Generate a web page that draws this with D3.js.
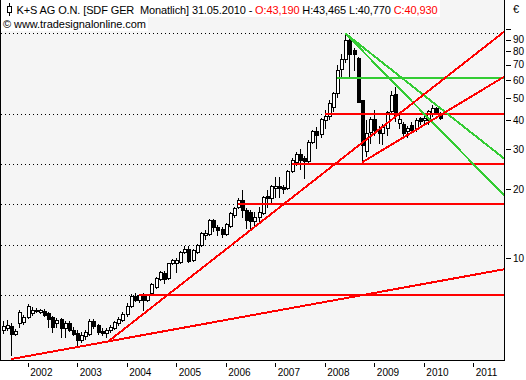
<!DOCTYPE html>
<html><head><meta charset="utf-8">
<script src="https://cdn.jsdelivr.net/npm/d3@7"></script>
<style>
body{margin:0;background:#fff}
svg{display:block}
text{font-family:"Liberation Sans",Arial,sans-serif;white-space:pre}
</style>
</head><body>
<svg id="c" width="526" height="380"></svg>
<script>
// ---------- DATA ----------
const months = [
 "2001-07","2001-08","2001-09","2001-10","2001-11","2001-12",
 "2002-01","2002-02","2002-03","2002-04","2002-05","2002-06","2002-07","2002-08","2002-09","2002-10","2002-11","2002-12",
 "2003-01","2003-02","2003-03","2003-04","2003-05","2003-06","2003-07","2003-08","2003-09","2003-10","2003-11","2003-12",
 "2004-01","2004-02","2004-03","2004-04","2004-05","2004-06","2004-07","2004-08","2004-09","2004-10","2004-11","2004-12",
 "2005-01","2005-02","2005-03","2005-04","2005-05","2005-06","2005-07","2005-08","2005-09","2005-10","2005-11","2005-12",
 "2006-01","2006-02","2006-03","2006-04","2006-05","2006-06","2006-07","2006-08","2006-09","2006-10","2006-11","2006-12",
 "2007-01","2007-02","2007-03","2007-04","2007-05","2007-06","2007-07","2007-08","2007-09","2007-10","2007-11","2007-12",
 "2008-01","2008-02","2008-03","2008-04","2008-05","2008-06","2008-07","2008-08","2008-09","2008-10","2008-11","2008-12",
 "2009-01","2009-02","2009-03","2009-04","2009-05","2009-06","2009-07","2009-08","2009-09","2009-10","2009-11","2009-12",
 "2010-01","2010-02","2010-03","2010-04","2010-05"
];
const open = [
 4.86,4.95,5.05,4.68,5.22,5.25,
 5.55,5.75,5.88,5.82,5.90,5.75,5.52,5.22,5.42,4.98,5.20,4.88,
 4.70,4.40,4.60,4.68,5.30,5.10,4.80,4.70,4.85,4.98,5.20,5.40,
 5.70,6.20,6.85,6.55,6.90,6.60,7.05,7.50,8.10,8.60,8.20,9.50,
 9.55,9.65,10.7,10.95,9.80,10.7,11.4,12.7,12.8,14.7,13.7,13.4,
 12.8,13.9,15.5,16.8,17.9,16.2,15.9,14.6,15.2,15.8,18.8,18.4,
 20.3,20.6,20.5,20.3,24.0,26.4,28.4,27.5,26.5,32.3,36.0,34.8,
 40.3,41.8,46.0,52.5,67.0,74.5,90.0,81.5,75.0,49.0,29.5,35.5,
 40.5,36.3,35.2,37.0,44.0,52.0,39.0,38.4,35.8,38.1,36.9,40.8,
 40.0,40.3,43.0,45.2,43.19
];
const high = [
 5.33,5.40,5.20,4.90,5.95,5.65,
 6.30,6.15,6.08,6.00,5.98,5.85,5.58,5.48,5.50,5.30,5.35,5.00,
 4.85,4.75,4.85,5.45,5.42,5.15,4.95,4.95,5.10,5.35,5.55,5.80,
 6.35,6.95,7.05,7.00,7.05,7.00,7.80,8.30,8.80,8.80,9.55,9.95,
 10.0,10.8,11.3,11.3,11.0,11.6,13.0,13.3,14.9,14.8,14.0,13.7,
 14.3,16.0,16.8,18.3,19.8,16.5,16.3,16.0,16.8,18.8,19.9,20.9,
 22.7,22.7,20.9,24.3,27.5,29.0,30.0,28.0,32.8,36.5,37.5,41.0,
 44.5,49.0,53.5,70.0,78.0,96.0,92.0,83.0,76.0,49.2,40.0,41.5,
 44.5,38.0,38.5,44.0,54.0,56.0,43.0,39.5,38.0,39.5,41.0,41.5,
 43.0,44.5,46.5,46.0,43.465
];
const low = [
 4.70,4.85,3.80,4.62,5.00,5.15,
 5.50,5.65,5.80,5.78,5.62,5.00,4.75,5.00,4.55,4.55,4.80,4.62,
 4.20,4.30,4.45,4.62,4.95,4.68,4.62,4.55,4.75,4.90,5.10,5.30,
 5.60,6.10,6.50,6.45,5.95,6.50,6.90,7.40,8.00,7.80,8.10,9.40,
 8.75,9.55,10.5,9.60,9.70,10.6,11.3,12.2,12.7,13.1,12.7,12.4,
 12.6,13.7,15.2,16.6,15.2,13.5,13.6,13.7,14.2,15.6,16.8,17.4,
 18.6,18.6,19.2,20.0,23.8,25.5,24.5,22.5,26.0,31.8,30.2,34.0,
 37.0,40.5,44.0,50.5,62.0,72.0,62.0,66.5,48.0,26.4,28.0,32.0,
 34.5,32.0,31.5,34.5,43.0,39.8,37.0,34.3,34.0,35.5,36.0,38.5,
 38.5,38.5,42.0,42.5,40.77
];
const close = [
 5.06,5.10,4.65,4.80,5.85,5.55,
 6.20,5.95,5.95,5.95,5.68,5.42,5.02,5.38,4.95,5.20,4.88,4.68,
 4.38,4.62,4.78,5.35,5.08,4.78,4.70,4.88,5.00,5.25,5.45,5.70,
 6.20,6.85,6.60,6.90,6.55,6.90,7.70,8.20,8.70,8.10,9.50,9.80,
 9.85,10.7,10.95,9.70,10.9,11.4,12.9,12.9,14.7,13.65,13.3,12.8,
 14.1,15.8,16.5,17.9,16.3,14.7,14.5,15.2,15.9,18.6,18.3,20.7,
 20.6,20.2,20.1,24.0,26.9,28.4,27.0,26.5,32.3,36.0,34.6,40.5,
 41.8,47.8,52.6,66.5,74.5,90.2,78.0,78.0,48.3,31.2,35.2,40.5,
 36.5,35.1,37.5,43.4,51.5,42.3,40.6,35.2,36.9,36.4,40.0,39.9,
 40.8,44.0,45.2,43.2,40.93
];
const yearLabels = ["2002","2003","2004","2005","2006","2007","2008","2009","2010","2011"];
const priceTicks = [10,20,30,40,50,60,70,80,90,100];
const priceTickLabels = ["10","20","30","40","50","60","70","80","90",""];
// Drawn studies: levels (start month, price) and trendlines (two anchors)
const redLevels = [["2004-04",6.9],["2006-04",17.2],["2007-05",25.7],["2008-01",42.7]];
const greenLevels = [["2008-04",61.3]];
const dottedLevels = [96,42.7,25.7,17.2,11.4,6.9];
const redTrends = [
 [["2001-09",3.63],["2005-02",4.95]],
 [["2003-08-15",4.32],["2008-01",23.8]],
 [["2008-10",26.2],["2010-05",42.1]]
];
const greenTrends = [
 [["2008-06",96],["2010-05",45.3]],
 [["2008-06",96],["2010-05",36.3]]
];
const title = "K+S AG O.N. [SDF GER  Monatlich] 31.05.2010 - ";
const copyright = "\u00a9 www.tradesignalonline.com";

// ---------- CHART ----------
const svg = d3.select("#c");
const W = 526, H = 380;
const L = 1, R = 504, T = 0, B = 360;
const pm = d3.utcParse("%Y-%m"), pd = d3.utcParse("%Y-%m-%d");
const pdate = s => s.length > 7 ? pd(s) : pm(s);

const x = d3.scaleUtc().domain([pm("2002-01"), pm("2011-01")]).range([27.7, 473.3]);
const y = d3.scaleLog().domain([10, 100]).range([258.3, 29.3]);

const data = months.map((m, i) => ({d: pm(m), o: open[i], h: high[i], l: low[i], c: close[i]}));

svg.append("rect").attr("width", W).attr("height", H).attr("fill", "#fff");
svg.append("defs").append("clipPath").attr("id", "clip")
  .append("rect").attr("x", L).attr("y", T).attr("width", R - L).attr("height", B - T);
svg.append("rect").attr("x", L).attr("y", T).attr("width", R - L).attr("height", B - T).attr("fill", "#f5f5f5");

const plot = svg.append("g").attr("clip-path", "url(#clip)");

// dotted levels
plot.selectAll("line.dot").data(dottedLevels).join("line")
  .attr("x1", L).attr("x2", R)
  .attr("y1", v => Math.round(y(v)) + 0.5).attr("y2", v => Math.round(y(v)) + 0.5)
  .attr("stroke", "#000").attr("stroke-width", 1).attr("stroke-dasharray", "1,3")
  .attr("shape-rendering", "crispEdges");

// candles
const cg = plot.append("g").attr("shape-rendering", "crispEdges");
data.forEach(k => {
  const cx = Math.round(x(k.d));
  cg.append("line").attr("x1", cx + 0.5).attr("x2", cx + 0.5)
    .attr("y1", Math.round(y(k.h))).attr("y2", Math.round(y(k.l)) + 1)
    .attr("stroke", "#000");
  const top = Math.round(y(Math.max(k.o, k.c)));
  const bot = Math.round(y(Math.min(k.o, k.c)));
  cg.append("rect").attr("x", cx - 0.5).attr("width", 3)
    .attr("y", top + 0.5).attr("height", Math.max(1, bot - top))
    .attr("fill", k.c >= k.o ? "#fff" : "#000").attr("stroke", "#000");
});

// studies
const lg = plot.append("g").attr("shape-rendering", "crispEdges").attr("fill", "none");
function level(arr, color) {
  arr.forEach(([m, v]) => {
    lg.append("line").attr("x1", Math.round(x(pdate(m)))).attr("x2", R)
      .attr("y1", Math.round(y(v))).attr("y2", Math.round(y(v)))
      .attr("stroke", color).attr("stroke-width", 2);
  });
}
function trend(arr, color) {
  arr.forEach(([[m1, v1], [m2, v2]]) => {
    const x1 = x(pdate(m1)), y1 = y(v1), x2 = x(pdate(m2)), y2 = y(v2);
    const s = (y2 - y1) / (x2 - x1);
    lg.append("line").attr("x1", x1).attr("y1", y1)
      .attr("x2", R).attr("y2", y1 + s * (R - x1))
      .attr("stroke", color).attr("stroke-width", 2);
  });
}
level(redLevels, "#ff0000");
level(greenLevels, "#33cc33");
trend(greenTrends, "#33cc33");
trend(redTrends, "#ff0000");

// frame
svg.append("line").attr("x1", 0.5).attr("x2", 0.5).attr("y1", 0).attr("y2", B).attr("stroke", "#000");
svg.append("line").attr("x1", R + 0.5).attr("x2", R + 0.5).attr("y1", 0).attr("y2", B + 1).attr("stroke", "#000");
svg.append("line").attr("x1", 0).attr("x2", R + 1).attr("y1", B + 0.5).attr("y2", B + 0.5).attr("stroke", "#000");

// y axis (right)
const ya = svg.append("g").attr("transform", `translate(${R + 2},0)`)
  .call(d3.axisRight(y).tickValues(priceTicks).tickSize(5).tickPadding(2)
    .tickFormat((d, i) => priceTickLabels[i]));
ya.select(".domain").remove();
ya.selectAll("line").attr("stroke", "#000").attr("shape-rendering", "crispEdges");
ya.selectAll("text").attr("font-family", "Liberation Sans, Arial, sans-serif").attr("font-size", 10).attr("fill", "#000");

// x axis
const yearDates = yearLabels.map(s => pd(s + "-01-01"));
const xa = svg.append("g").attr("transform", `translate(0,${B + 3})`)
  .call(d3.axisBottom(x).tickValues(yearDates).tickSize(4).tickFormat((d, i) => yearLabels[i]));
xa.select(".domain").remove();
xa.selectAll("line").attr("stroke", "#000").attr("shape-rendering", "crispEdges");
xa.selectAll("text").attr("text-anchor", "start").attr("x", 2).attr("y", 13).attr("dy", 0)
  .attr("font-family", "Liberation Sans, Arial, sans-serif").attr("font-size", 10).attr("fill", "#000");

// header
svg.append("rect").attr("x", 1).attr("y", 0).attr("width", 439).attr("height", 17).attr("fill", "#fff");
svg.append("rect").attr("x", 1).attr("y", 17).attr("width", 147).attr("height", 14).attr("fill", "#fff");
// candle icon
svg.append("line").attr("x1", 9.5).attr("x2", 9.5).attr("y1", 3).attr("y2", 16).attr("stroke", "#000").attr("shape-rendering", "crispEdges");
svg.append("rect").attr("x", 7.5).attr("y", 6.5).attr("width", 4).attr("height", 6).attr("fill", "#fff").attr("stroke", "#000").attr("shape-rendering", "crispEdges");

const last = data[data.length - 1];
const f3 = v => d3.format(".3f")(v).replace(".", ",");
const ht = svg.append("text").attr("x", 16.5).attr("y", 14).attr("font-size", 11).attr("fill", "#000")
  .attr("xml:space", "preserve");
ht.append("tspan").text(title);
ht.append("tspan").attr("fill", "#ff0000").text("O:" + f3(last.o));
ht.append("tspan").text(" H:" + f3(last.h) + " L:" + f3(last.l) + " ");
ht.append("tspan").attr("fill", "#ff0000").text("C:" + f3(last.c));
ht.attr("textLength", 421).attr("lengthAdjust", "spacing");

svg.append("text").attr("x", 3).attr("y", 28).attr("font-size", 11).attr("fill", "#000")
  .attr("textLength", 143).attr("lengthAdjust", "spacing").text(copyright);

svg.append("text").attr("x", 513).attr("y", 13).attr("font-size", 11).attr("fill", "#000").text("\u20ac");
</script>
</body></html>
